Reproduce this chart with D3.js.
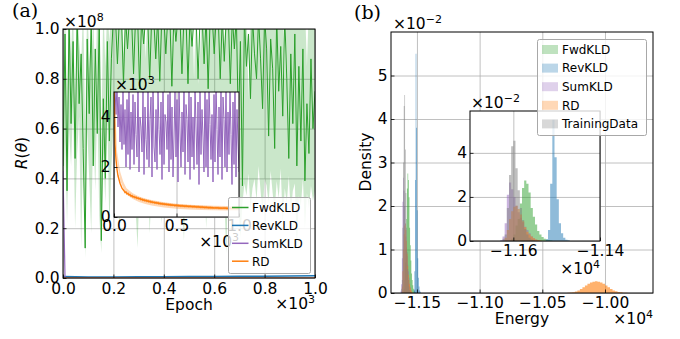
<!DOCTYPE html>
<html>
<head>
<meta charset="utf-8">
<script src="https://cdn.jsdelivr.net/npm/d3@7"></script>
<style>
  body { margin: 0; background: #fff; }
  svg text { font-family: "DejaVu Sans", sans-serif; }
</style>
</head>
<body>
<svg id="chart" width="680" height="339"></svg>
<script>
// ---------- data: panel (a), training curves ----------
const epochs = d3.range(0, 1001, 8);

// FwdKLD in units of 1e8 (values above 1 are clipped by the axes)
const fwdKLD = [
  0.45, 0.98, 0.35, 1.05, 0.62, 0.95, 0.48, 1.05, 0.70, 0.90, 0.52, 0.12, 0.96, 0.66, 1.05, 0.45, 0.92, 0.58, 1.05, 0.15, 0.72, 0.40, 0.95, 0.55, 0.88, 1.05,
  1.05, 0.86, 1.05, 1.05, 0.78, 1.05, 0.92, 1.05, 1.05, 0.82, 1.05, 1.05, 0.76, 1.05, 0.94, 1.05, 1.05, 0.80, 1.05, 1.05,
  0.88, 1.05, 0.79, 1.05, 1.05, 0.90, 1.05, 1.05, 0.77, 1.05, 0.95, 1.05, 1.05, 0.82, 1.05, 1.05, 0.78, 1.05, 0.93, 1.05,
  1.05, 0.80, 1.05, 1.05, 0.86, 1.05, 0.76, 1.05, 1.05, 0.90, 1.05, 1.05, 0.80, 1.05, 0.87, 1.05, 1.05, 0.78, 1.05, 0.92,
  1.05, 0.60,
  0.95, 0.37, 1.05, 0.85, 0.98, 0.72, 1.05, 0.90, 0.80, 1.05, 0.88, 0.68, 1.05, 0.92, 0.57, 0.96, 0.84, 0.52, 1.05, 0.75, 0.93, 0.65, 1.05, 0.80, 0.48, 0.90,
  0.62, 0.98, 0.45, 0.85, 0.55, 0.92, 0.39, 0.70, 0.50, 0.88, 0.60, 0.75
];
const fwdLo = [
  0.30, 0.55, 0.22, 0.60, 0.45, 0.70, 0.20, 0.50, 0.65, 0.12, 0.55, 0.08, 0.60, 0.40, 0.18, 0.62, 0.35, 0.70, 0.25, 0.10, 0.50, 0.30, 0.65, 0.20, 0.45, 0.60,
  0.40, 0.35, 0.20, 0.45, 0.38, 0.30, 0.42, 0.36, 0.50, 0.33, 0.28, 0.12, 0.40, 0.46, 0.35, 0.30, 0.44, 0.18, 0.38, 0.42,
  0.33, 0.47, 0.36, 0.22, 0.40, 0.31, 0.45, 0.38, 0.34, 0.43, 0.37, 0.29, 0.41, 0.35, 0.15, 0.44, 0.39, 0.32, 0.46, 0.36,
  0.30, 0.42, 0.38, 0.34, 0.45, 0.20, 0.40, 0.33, 0.37, 0.43, 0.35, 0.30, 0.41, 0.38, 0.33, 0.10, 0.44, 0.36, 0.40, 0.32, 0.39, 0.30,
  0.16, 0.30, 0.38, 0.33, 0.42, 0.28, 0.36, 0.40, 0.31, 0.45, 0.35, 0.25, 0.40, 0.37, 0.30, 0.43, 0.34, 0.27, 0.39, 0.32,
  0.44, 0.22, 0.36, 0.30, 0.41, 0.26, 0.35, 0.38, 0.12, 0.33, 0.29, 0.40, 0.20, 0.34, 0.28, 0.37, 0.31, 0.35
];
const fwdHi = [
  0.80, 1.10, 0.70, 1.10, 0.90, 1.10, 0.65, 1.10, 0.95, 0.85, 1.10, 0.60, 1.10, 0.90, 0.75, 1.10, 0.70, 1.10, 1.10, 0.55, 1.10, 0.85, 1.10, 0.95, 1.10, 1.10,
  1.10, 1.10, 1.10, 1.10, 0.90, 1.10, 1.10, 1.10, 1.10, 1.10, 1.10, 1.10, 1.10, 1.10, 1.10, 0.88, 1.10, 1.10, 1.10, 1.10,
  1.10, 1.10, 1.10, 1.10, 1.10, 1.10, 1.10, 1.10, 1.10, 0.92, 1.10, 1.10, 1.10, 1.10, 1.10, 1.10, 1.10, 1.10, 1.10, 0.80,
  1.10, 0.78, 0.90, 1.10, 1.10, 1.10, 1.10, 1.10, 1.10, 1.10, 1.10, 1.10, 1.10, 1.10, 0.93, 1.10, 1.10, 1.10, 1.10, 1.10, 1.10, 1.10,
  1.10, 1.10, 1.10, 1.10, 0.72, 1.10, 1.10, 1.10, 1.10, 1.10, 1.10, 1.10, 1.10, 1.10, 1.10, 1.10, 1.10, 1.10, 1.10, 1.10,
  1.10, 1.10, 0.80, 1.10, 1.10, 1.10, 1.10, 1.10, 1.10, 1.10, 1.10, 1.10, 1.10, 0.85, 1.10, 1.10, 1.10, 1.10
];

// RevKLD in units of 1e8
const revEpochs = d3.range(0, 1001, 100);
const revKLD = [0.006, 0.004, 0.004, 0.005, 0.005, 0.006, 0.006, 0.007, 0.007, 0.008, 0.009];

// SumKLD and RD in raw units
const sumKLD = [
  43000000,
  5200, 4100, 5400, 3600, 4800, 3000, 4500, 2700, 5100, 2900, 4300, 2000, 4700, 2500, 5300, 1900, 4200, 2700, 4900, 2100,
  4600, 3300, 2400, 5500, 1800, 4000, 3600, 2600, 5000, 1700, 4400, 3100, 2300, 5200, 2000, 3900, 4800, 1600, 5400, 2800,
  2200, 4300, 1900, 5100, 3500, 2500, 4600, 1500, 5300, 2100, 4100, 3800, 2700, 4900, 1800, 5500, 2300, 4400, 1600, 3200,
  5000, 2400, 4700, 1400, 5200, 3400, 2000, 4200, 2600, 5400, 1700, 4500, 3900, 2200, 5100, 1500, 4800, 2400, 4000, 1900,
  5300, 3600, 2100, 4600, 1300, 5000, 2500, 4300, 3200, 1800, 5500, 2000, 4700, 1600, 5200, 3700, 2300, 4100, 1400, 4900,
  2200, 5400, 3500, 1700, 4400, 2400, 5100, 1500, 4800, 3900, 2000, 5300, 1800, 4200, 2500, 5000, 3300, 1300, 4600, 2100,
  5500, 1600, 4300, 3000, 1800
];
const rd = [
  5500, 2900, 2300, 1900, 1650, 1500, 1350, 1250, 1150, 1100,
  1050, 980, 1000, 920, 950, 880, 900, 830, 860, 800,
  820, 770, 800, 740, 770, 720, 750, 690, 720, 660,
  700, 640, 680, 620, 660, 600, 640, 580, 620, 570,
  600, 550, 590, 540, 580, 520, 560, 510, 550, 500,
  540, 490, 530, 480, 520, 470, 510, 460, 500, 455,
  490, 445, 485, 440, 480, 430, 470, 425, 465, 420,
  460, 415, 455, 410, 450, 405, 445, 400, 440, 395,
  435, 390, 430, 385, 425, 380, 420, 375, 415, 370,
  410, 365, 405, 360, 400, 355, 395, 350, 390, 350,
  385, 345, 380, 345, 380, 340, 375, 340, 375, 335,
  370, 335, 370, 330, 365, 330, 365, 330, 360, 325,
  360, 325, 360, 325, 355, 325
];
const rdBandEpochs = [0, 25, 50, 75, 100, 150, 200, 250, 300, 400, 500, 600, 700, 800, 900, 1000];
const rdLo = [3800, 2200, 1450, 1150, 900, 720, 600, 520, 460, 380, 330, 300, 280, 270, 265, 265];
const rdHi = [5500, 2600, 1800, 1400, 1150, 950, 820, 740, 680, 590, 530, 490, 470, 450, 440, 430];

const curveNames = ["FwdKLD", "RevKLD", "SumKLD", "RD"];

// ---------- data: panel (b), energy histograms (energy in 1e4, density in 1e-2) ----------
const binStart = -1.1660, binWidth = 0.0005;   // 44 bins
const histFwd = [0,0,0,0,0,0,0,0,0,0,0, 0.1,0.3,0.7,1.0,1.7,2.4,2.75,2.6,2.2,1.5,1.1,0.75,0.45,0.3,0.18,0.1,0.06,0.04,0.02, 0,0,0,0,0,0,0,0,0,0,0,0,0,0];
const histRev = [0,0,0,0,0,0,0,0,0,0,0,0,0,0,0,0,0,0,0,0,0,0,0,0,0,0,0, 0.08,0.5,2.6,5.5,3.8,1.9,0.8,0.35,0.15,0.06,0.03, 0,0,0,0,0,0];
const histSum = [0,0,0,0,0,0, 0.05,0.2,0.8,2.1,2.65,2.35,2.0,1.6,1.3,1.05,0.85,0.65,0.5,0.35,0.22,0.13,0.07,0.03, 0,0,0,0,0,0,0,0,0,0,0,0,0,0,0,0,0,0,0,0];
const histRd = [0,0,0,0,0,0,0,0, 0.15,0.5,1.0,1.35,1.55,1.6,1.45,1.2,0.9,0.62,0.42,0.3,0.2,0.12,0.07,0.04,0.02, 0,0,0,0,0,0,0,0,0,0,0,0,0,0,0,0,0,0,0];
const histTrain = [0,0,0,0,0,0,0, 0.1,0.3,1.5,3.0,4.3,4.55,3.3,2.3,1.5,0.95,0.55,0.3,0.15,0.07,0.03, 0,0,0,0,0,0,0,0,0,0,0,0,0,0,0,0,0,0,0,0,0,0];
// second RD mode far to the right
const rdFarStart = -1.030, rdFarWidth = 0.002;  // 24 bins
const histRdFar = [0.005,0.01,0.02,0.035,0.06,0.09,0.13,0.17,0.21,0.24,0.26,0.27,0.26,0.24,0.21,0.17,0.13,0.09,0.06,0.04,0.025,0.015,0.008,0.004];

const histNames = ["FwdKLD", "RevKLD", "SumKLD", "RD", "TrainingData"];
const histData = {FwdKLD: histFwd, RevKLD: histRev, SumKLD: histSum, RD: histRd, TrainingData: histTrain};

const colors = {FwdKLD: "#2ca02c", RevKLD: "#1f77b4", SumKLD: "#9467bd", RD: "#ff7f0e", TrainingData: "#7f7f7f"};

// ---------- helpers ----------
const FS = 15.5;
const svg = d3.select("#chart");
svg.append("rect").attr("width", 680).attr("height", 339).attr("fill", "#fff");
const defs = svg.append("defs");
let clipId = 0;
function clip(x, y) {
  const id = "clip" + (clipId++);
  defs.append("clipPath").attr("id", id).append("rect")
    .attr("x", x.range()[0]).attr("y", y.range()[1])
    .attr("width", x.range()[1] - x.range()[0]).attr("height", y.range()[0] - y.range()[1]);
  return "url(#" + id + ")";
}

function grid(g, x, y, xt, yt) {
  const h = y.range()[0] - y.range()[1], w = x.range()[1] - x.range()[0];
  g.append("g").attr("transform", `translate(0,${y.range()[0]})`)
    .call(d3.axisBottom(x).tickValues(xt).tickSize(-h).tickFormat(""))
    .call(s => s.select(".domain").remove())
    .selectAll("line").attr("stroke", "#b0b0b0").attr("stroke-width", 0.8);
  g.append("g").attr("transform", `translate(${x.range()[0]},0)`)
    .call(d3.axisLeft(y).tickValues(yt).tickSize(-w).tickFormat(""))
    .call(s => s.select(".domain").remove())
    .selectAll("line").attr("stroke", "#b0b0b0").attr("stroke-width", 0.8);
}

function axes(g, x, y, xt, yt, xf, yf, xpad, ypad) {
  const ax = g.append("g").attr("transform", `translate(0,${y.range()[0]})`)
    .call(d3.axisBottom(x).tickValues(xt).tickSize(-3.5).tickPadding(xpad).tickFormat(xf));
  const ay = g.append("g").attr("transform", `translate(${x.range()[0]},0)`)
    .call(d3.axisLeft(y).tickValues(yt).tickSize(-3.5).tickPadding(ypad).tickFormat(yf));
  [ax, ay].forEach(a => {
    a.attr("font-size", FS).attr("font-family", "DejaVu Sans");
    a.select(".domain").remove();
    a.selectAll("line").attr("stroke", "#000").attr("stroke-width", 0.8);
    a.selectAll("text").attr("fill", "#000");
  });
  g.append("rect")
    .attr("x", x.range()[0]).attr("y", y.range()[1])
    .attr("width", x.range()[1] - x.range()[0]).attr("height", y.range()[0] - y.range()[1])
    .attr("fill", "none").attr("stroke", "#000").attr("stroke-width", 1);
}

function offsetText(x, y, exp, anchor) {
  const t = svg.append("text").attr("x", x).attr("y", y).attr("font-size", FS)
    .attr("text-anchor", anchor || "start");
  t.append("tspan").text("×10");
  t.append("tspan").attr("dy", -6.5).attr("font-size", 11).text(exp);
}

function histPath(x, y, start, w, vals) {
  const pts = vals.map((v, i) => [start + i * w, v]);
  pts.push([start + vals.length * w, vals[vals.length - 1]]);
  return d3.area().x(d => x(d[0])).y0(y(0)).y1(d => y(d[1])).curve(d3.curveStepAfter)(pts);
}

// ---------- panel (a) ----------
const xA = d3.scaleLinear().domain([0, 1000]).range([63, 315]);
const yA = d3.scaleLinear().domain([0, 1]).range([278, 29]);
const gA = svg.append("g");
grid(gA, xA, yA, [0, 200, 400, 600, 800, 1000], [0, 0.2, 0.4, 0.6, 0.8, 1.0]);

const plotA = gA.append("g").attr("clip-path", clip(xA, yA));
plotA.append("path")
  .attr("d", d3.area().x((d, i) => xA(epochs[i])).y0((d, i) => yA(fwdLo[i])).y1((d, i) => yA(fwdHi[i]))(fwdKLD))
  .attr("fill", colors.FwdKLD).attr("fill-opacity", 0.25);
plotA.append("path")
  .attr("d", d3.line().x((d, i) => xA(epochs[i])).y(d => yA(d))(fwdKLD))
  .attr("fill", "none").attr("stroke", colors.FwdKLD).attr("stroke-width", 1);
plotA.append("path")
  .attr("d", d3.line().x((d, i) => xA(revEpochs[i])).y(d => yA(d))(revKLD))
  .attr("fill", "none").attr("stroke", colors.RevKLD).attr("stroke-width", 1.5);
plotA.append("path")
  .attr("d", d3.line().x((d, i) => xA(epochs[i])).y(d => yA(d / 1e8))(sumKLD))
  .attr("fill", "none").attr("stroke", colors.SumKLD).attr("stroke-width", 1.2);
plotA.append("path")
  .attr("d", d3.line().x((d, i) => xA(epochs[i])).y(d => yA(d / 1e8))(rd))
  .attr("fill", "none").attr("stroke", colors.RD).attr("stroke-width", 1.2);

axes(gA, xA, yA, [0, 200, 400, 600, 800, 1000], [0, 0.2, 0.4, 0.6, 0.8, 1.0],
  d => (d / 1000).toFixed(1), d3.format(".1f"), 5, 3.5);

// inset of panel (a)
const xAi = d3.scaleLinear().domain([0, 1000]).range([114, 239]);
const yAi = d3.scaleLinear().domain([0, 5000]).range([217, 92]);
const gAi = svg.append("g");
gAi.append("rect").attr("x", 114).attr("y", 92).attr("width", 125).attr("height", 125).attr("fill", "#fff");
grid(gAi, xAi, yAi, [0, 500, 1000], [0, 2000, 4000]);
const plotAi = gAi.append("g").attr("clip-path", clip(xAi, yAi));
plotAi.append("path")
  .attr("d", d3.line().x((d, i) => xAi(epochs[i])).y(d => yAi(d))(sumKLD))
  .attr("fill", "none").attr("stroke", colors.SumKLD).attr("stroke-width", 1);
plotAi.append("path")
  .attr("d", d3.area().x((d, i) => xAi(rdBandEpochs[i])).y0((d, i) => yAi(rdLo[i])).y1(d => yAi(d))(rdHi))
  .attr("fill", colors.RD).attr("fill-opacity", 0.3);
plotAi.append("path")
  .attr("d", d3.line().x((d, i) => xAi(epochs[i])).y(d => yAi(d))(rd))
  .attr("fill", "none").attr("stroke", colors.RD).attr("stroke-width", 1.4);
axes(gAi, xAi, yAi, [0, 500, 1000], [0, 2000, 4000],
  d => (d / 1000).toFixed(1), d => d / 1000, 3, 3.5);

offsetText(64, 27, "8");
offsetText(115, 90, "3");
offsetText(239, 247, "3", "end");
offsetText(315, 309, "3", "end");

svg.append("text").attr("x", 189).attr("y", 310).attr("font-size", FS)
  .attr("text-anchor", "middle").text("Epoch");
const rLab = svg.append("text").attr("transform", "translate(27,153) rotate(-90)")
  .attr("font-size", FS).attr("text-anchor", "middle");
rLab.append("tspan").attr("font-style", "italic").text("R");
rLab.append("tspan").text("(");
rLab.append("tspan").attr("font-style", "italic").text("θ");
rLab.append("tspan").text(")");

// legend (a)
const legA = svg.append("g");
legA.append("rect").attr("x", 228.5).attr("y", 197.5).attr("width", 82).attr("height", 76)
  .attr("rx", 2).attr("fill", "#fff").attr("fill-opacity", 0.8)
  .attr("stroke", "#a8a8a8").attr("stroke-width", 1);
curveNames.forEach((n, i) => {
  const yy = 207.5 + i * 17.9;
  legA.append("line").attr("x1", 232).attr("x2", 248.5).attr("y1", yy).attr("y2", yy)
    .attr("stroke", colors[n]).attr("stroke-width", 1.5);
  legA.append("text").attr("x", 252).attr("y", yy).attr("dy", "0.36em")
    .attr("font-size", 12).text(n);
});

// ---------- panel (b) ----------
const xB = d3.scaleLinear().domain([-1.1707, -0.9617]).range([391, 653]);
const yB = d3.scaleLinear().domain([0, 6.0]).range([293, 32]);
const gB = svg.append("g");
grid(gB, xB, yB, [-1.15, -1.10, -1.05, -1.00], [0, 1, 2, 3, 4, 5]);
const plotB = gB.append("g").attr("clip-path", clip(xB, yB));
histNames.forEach(n => {
  plotB.append("path").attr("d", histPath(xB, yB, binStart, binWidth, histData[n]))
    .attr("fill", colors[n]).attr("fill-opacity", 0.6);
  if (n === "RD") {
    plotB.append("path").attr("d", histPath(xB, yB, rdFarStart, rdFarWidth, histRdFar))
      .attr("fill", colors[n]).attr("fill-opacity", 0.6);
  }
});
axes(gB, xB, yB, [-1.15, -1.10, -1.05, -1.00], [0, 1, 2, 3, 4, 5],
  d3.format(".2f"), d3.format("d"), 4, 3.5);

// inset of panel (b)
const xBi = d3.scaleLinear().domain([-1.17, -1.14]).range([470, 600]);
const yBi = d3.scaleLinear().domain([0, 5.9]).range([241, 111]);
const gBi = svg.append("g");
gBi.append("rect").attr("x", 470).attr("y", 111).attr("width", 130).attr("height", 130).attr("fill", "#fff");
grid(gBi, xBi, yBi, [-1.16, -1.14], [0, 2, 4]);
const plotBi = gBi.append("g").attr("clip-path", clip(xBi, yBi));
histNames.forEach(n => {
  plotBi.append("path").attr("d", histPath(xBi, yBi, binStart, binWidth, histData[n]))
    .attr("fill", colors[n]).attr("fill-opacity", 0.5);
});
axes(gBi, xBi, yBi, [-1.16, -1.14], [0, 2, 4], d3.format(".2f"), d3.format("d"), 4, 3);

offsetText(393, 29, "−2");
offsetText(471, 108, "−2");
offsetText(600, 274, "4", "end");
offsetText(653, 324, "4", "end");

svg.append("text").attr("x", 522).attr("y", 324).attr("font-size", FS)
  .attr("text-anchor", "middle").text("Energy");
svg.append("text").attr("transform", "translate(371,162) rotate(-90)")
  .attr("font-size", FS).attr("text-anchor", "middle").text("Density");

// legend (b)
const legB = svg.append("g");
legB.append("rect").attr("x", 537.5).attr("y", 39.5).attr("width", 109).attr("height", 96)
  .attr("rx", 2).attr("fill", "#fff").attr("fill-opacity", 0.8)
  .attr("stroke", "#a8a8a8").attr("stroke-width", 1);
histNames.forEach((n, i) => {
  const yy = 49.5 + i * 18.6;
  legB.append("rect").attr("x", 542).attr("y", yy - 4.5).attr("width", 16).attr("height", 9)
    .attr("fill", colors[n]).attr("fill-opacity", 0.3);
  legB.append("text").attr("x", 562).attr("y", yy).attr("dy", "0.36em")
    .attr("font-size", 12).text(n);
});

// panel letters
svg.append("text").attr("x", 12).attr("y", 17).attr("font-size", 19)
  .style("font-family", "DejaVu Serif").text("(a)");
svg.append("text").attr("x", 354).attr("y", 19).attr("font-size", 19)
  .style("font-family", "DejaVu Serif").text("(b)");
</script>
</body>
</html>
